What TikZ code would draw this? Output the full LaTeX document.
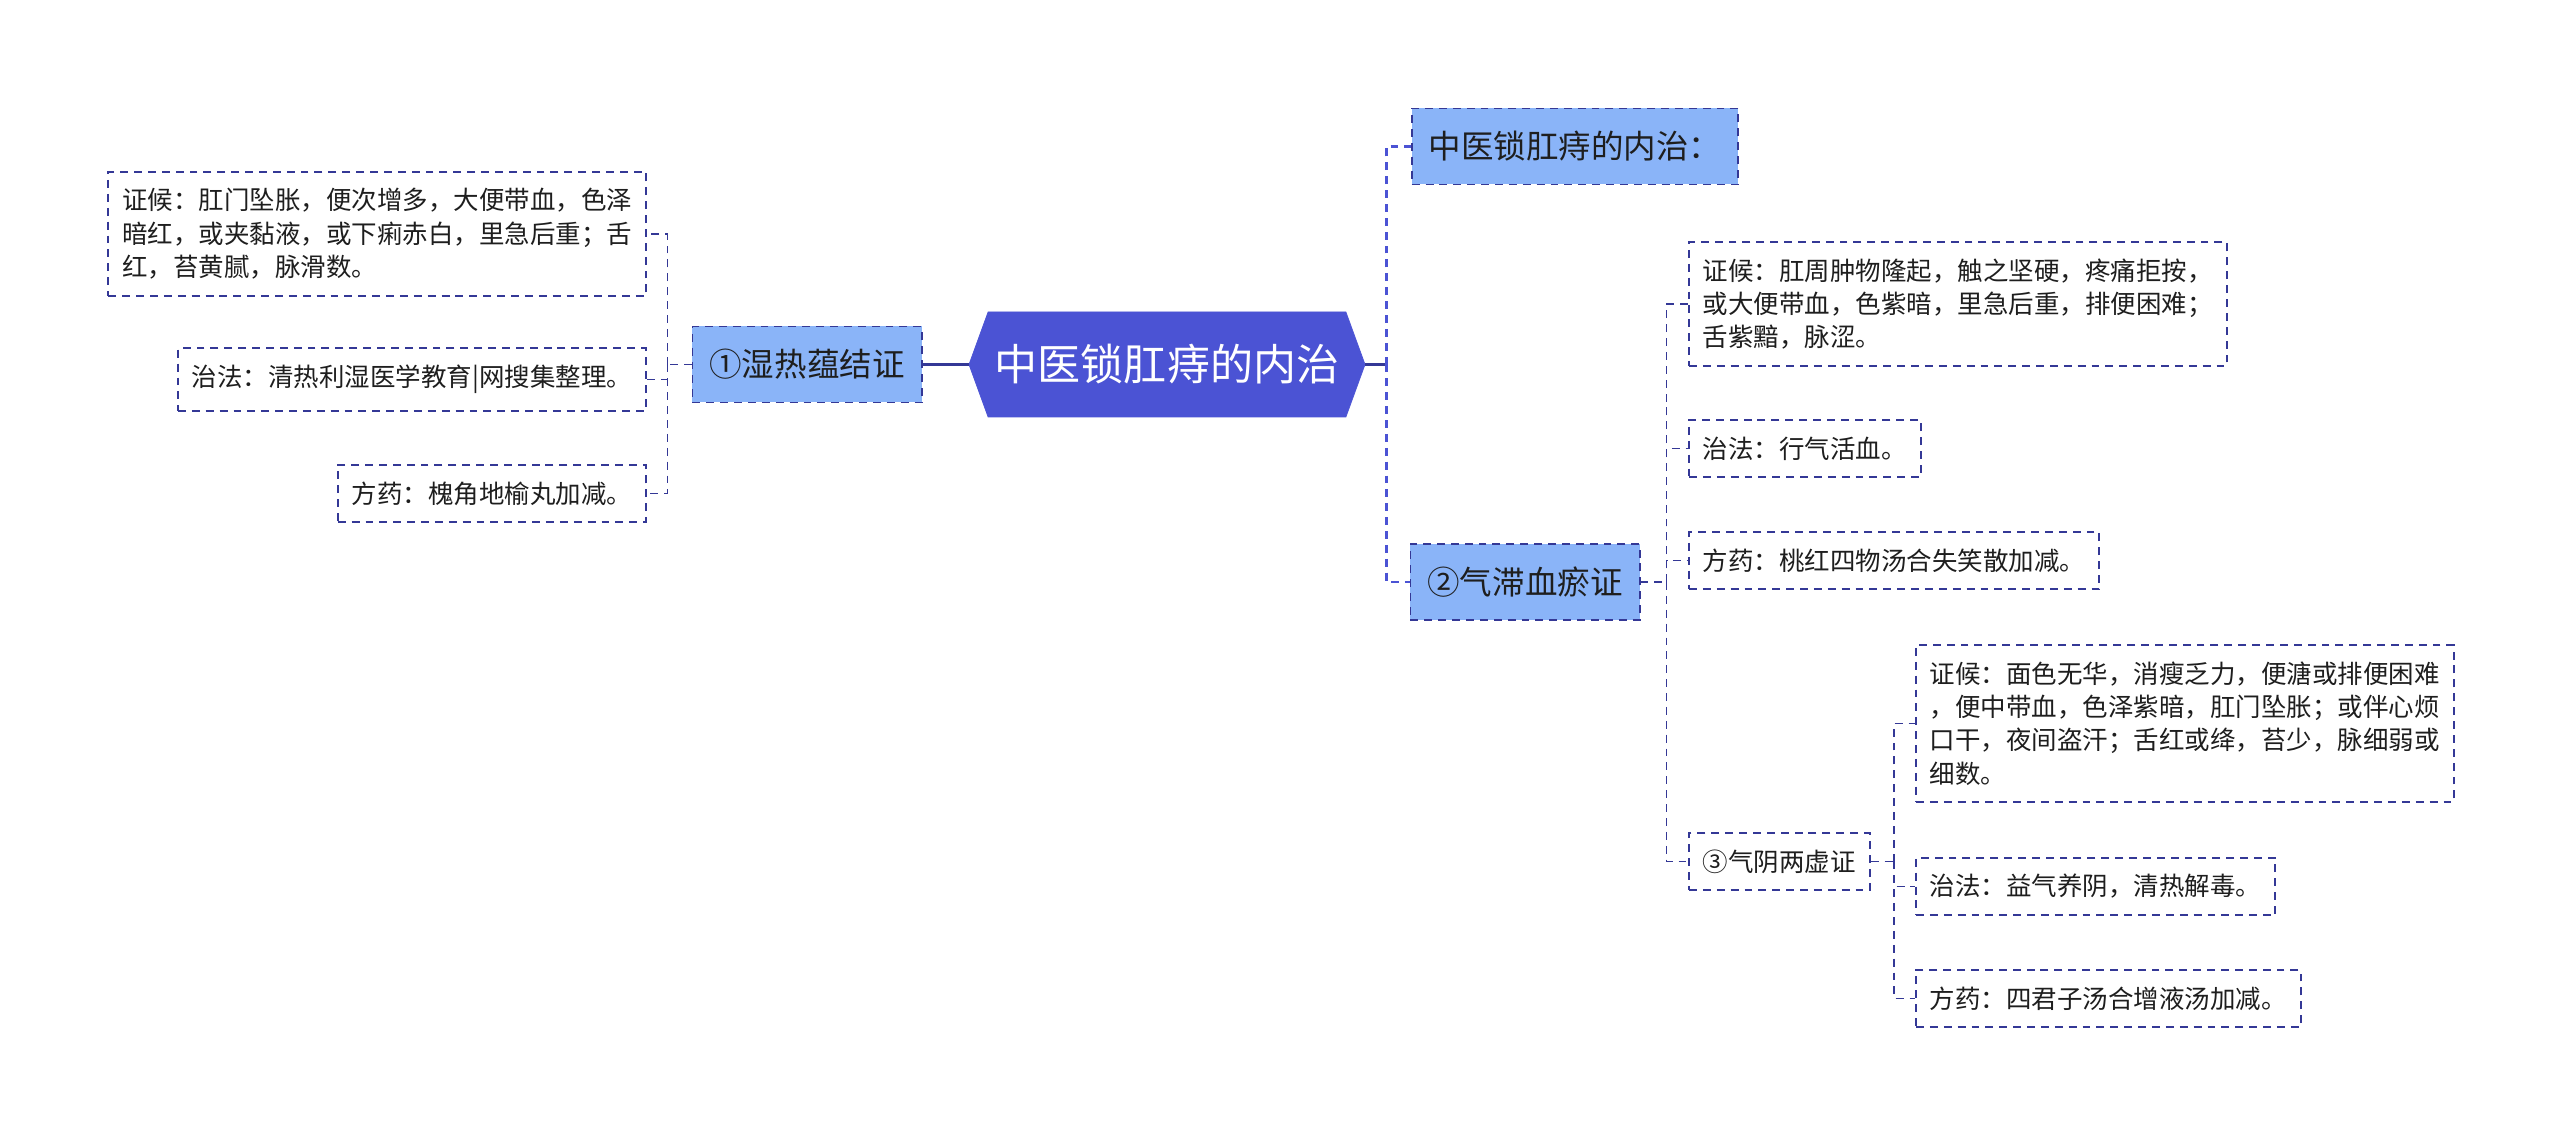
\documentclass[tikz,border=0pt]{standalone}
\usepackage{fontspec}
\setmainfont{Noto Sans CJK SC}
\usetikzlibrary{shapes.symbols}
\definecolor{navyline}{RGB}{52,56,150}
\definecolor{rootblue}{RGB}{75,83,212}
\definecolor{paleblue}{RGB}{138,180,248}
\definecolor{inkgray}{RGB}{30,30,30}

\begin{document}
\begin{tikzpicture}[x=1cm, y=-1cm,
    every node/.style={text=inkgray},
    leafbox/.style={draw=navyline, line width=1.1pt, dash pattern=on 4.5pt off 3.4pt,
      fill=white, align=left, inner xsep=0.28cm, inner ysep=9.5pt,
      font=\fontsize{14.5}{19}\selectfont},
    topicbox/.style={leafbox, fill=paleblue, align=center, inner xsep=0.34cm,
      minimum height=1.52cm, font=\fontsize{18.5}{22}\selectfont},
    link/.style={draw=navyline, line width=1.1pt, dash pattern=on 4.5pt off 3.4pt},
    trunk/.style={draw=navyline, line width=1.6pt}]
  \fill[white] (0,0) rectangle (51.2,22.76);
  \useasboundingbox (0,0) rectangle (51.2,22.76);

  % Root
  \node[signal, signal to=west and east, signal pointer angle=140,
    fill=rootblue, draw=rootblue, minimum width=7.92cm, minimum height=2.1cm,
    text=white, font=\fontsize{24.5}{28}\selectfont] (root) at (23.34,7.29) {中医锁肛痔的内治};

  % Left branch
  \node[topicbox] (damp) at (16.14,7.29) {①湿热蕴结证};
  \node[leafbox, anchor=east] (dampsign) at (12.94,4.68)
    {证候：肛门坠胀，便次增多，大便带血，色泽\\暗红，或夹黏液，或下痢赤白，里急后重；舌\\红，苔黄腻，脉滑数。};
  \node[leafbox, anchor=east] (damptreat) at (12.94,7.59) {治法：清热利湿医学教育|网搜集整理。};
  \node[leafbox, anchor=east] (dampdrug) at (12.94,9.87) {方药：槐角地榆丸加减。};

  % Right branches
  \node[topicbox] (inner) at (31.5,2.93) {中医锁肛痔的内治：};
  \node[topicbox] (stasis) at (30.5,11.64) {②气滞血瘀证};
  \node[leafbox, anchor=west] (stasissign) at (33.76,6.08)
    {证候：肛周肿物隆起，触之坚硬，疼痛拒按，\\或大便带血，色紫暗，里急后重，排便困难；\\舌紫黯，脉涩。};
  \node[leafbox, anchor=west] (stasistreat) at (33.76,8.97) {治法：行气活血。};
  \node[leafbox, anchor=west] (stasisdrug) at (33.76,11.21) {方药：桃红四物汤合失笑散加减。};
  \node[leafbox, anchor=west] (deficit) at (33.76,17.23) {③气阴两虚证};
  \node[leafbox, anchor=west] (deficitsign) at (38.3,14.47)
    {证候：面色无华，消瘦乏力，便溏或排便困难\\，便中带血，色泽紫暗，肛门坠胀；或伴心烦\\口干，夜间盗汗；舌红或绛，苔少，脉细弱或\\细数。};
  \node[leafbox, anchor=west] (deficittreat) at (38.3,17.73) {治法：益气养阴，清热解毒。};
  \node[leafbox, anchor=west] (deficitdrug) at (38.3,19.97) {方药：四君子汤合增液汤加减。};

  % Connectors
  \draw[trunk] (root.west) -- (damp.east);
  \coordinate (jdamp) at ([xshift=-0.48cm]damp.west);
  \draw[link] (damp.west) -- (jdamp);
  \draw[link] (jdamp) |- (dampsign.east);
  \draw[link] (jdamp) |- (damptreat.east);
  \draw[link] (jdamp) |- (dampdrug.east);

  \coordinate (jroot) at ([xshift=0.42cm]root.east);
  \draw[trunk] (root.east) -- (jroot);
  \draw[link, draw=rootblue, line width=1.5pt] (jroot) |- (inner.west);
  \draw[link, draw=rootblue, line width=1.5pt] (jroot) |- (stasis.west);

  \coordinate (jstasis) at ([xshift=0.52cm]stasis.east);
  \draw[link] (stasis.east) -- (jstasis);
  \draw[link] (jstasis) |- (stasissign.west);
  \draw[link] (jstasis) |- (stasistreat.west);
  \draw[link] (jstasis) |- (stasisdrug.west);
  \draw[link] (jstasis) |- (deficit.west);

  \coordinate (jdeficit) at ([xshift=0.46cm]deficit.east);
  \draw[link] (deficit.east) -- (jdeficit);
  \draw[link] (jdeficit) |- (deficitsign.west);
  \draw[link] (jdeficit) |- (deficittreat.west);
  \draw[link] (jdeficit) |- (deficitdrug.west);
\end{tikzpicture}
\end{document}
